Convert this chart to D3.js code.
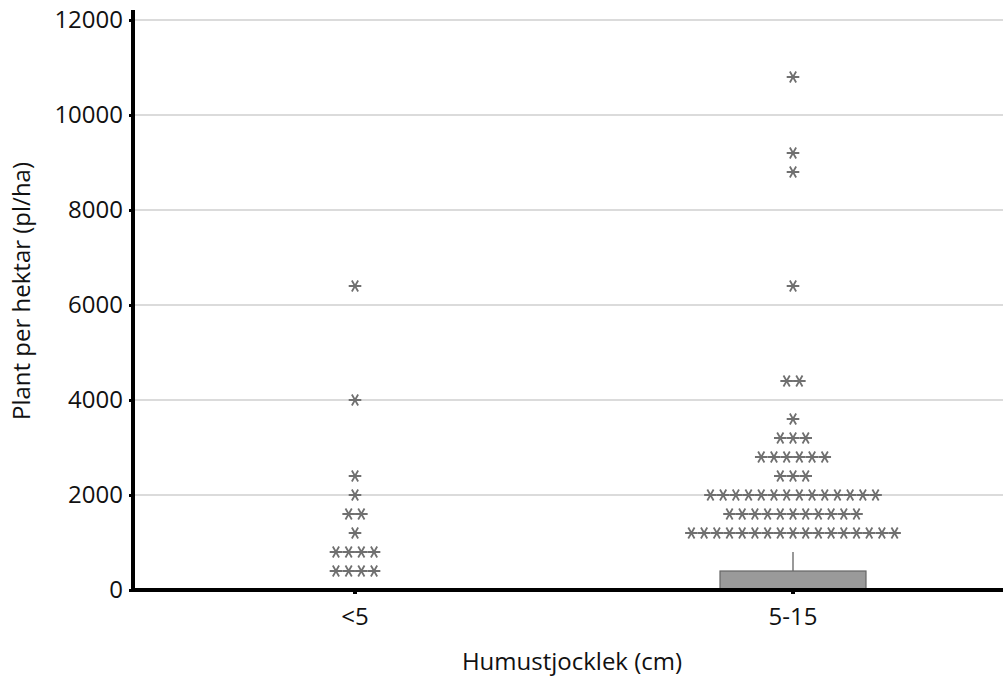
<!DOCTYPE html>
<html>
<head>
<meta charset="utf-8">
<script src="https://cdn.jsdelivr.net/npm/d3@7"></script>
<style>
  body { margin: 0; background: #fff; }
  text { font-family: "Open Sans", sans-serif; fill: #111; }
</style>
</head>
<body>
<script>
// categories and values
var categories = ["<5", "5-15"];
var yTicks = [0, 2000, 4000, 6000, 8000, 10000, 12000];

// box plot stats per category
var q1 = [0, 0];
var median = [0, 0];
var q3 = [0, 400];
var whiskerHigh = [0, 800];

// outliers: value rows and how many stars sit in each row
var outlierValuesA = [400, 800, 1200, 1600, 2000, 2400, 4000, 6400];
var outlierCountsA = [4, 4, 1, 2, 1, 1, 1, 1];
var outlierValuesB = [1200, 1600, 2000, 2400, 2800, 3200, 3600, 4400, 6400, 8800, 9200, 10800];
var outlierCountsB = [17, 11, 14, 3, 6, 3, 1, 2, 1, 1, 1, 1];

var width = 1003, height = 676;
var margin = { top: 20, right: 0, bottom: 86, left: 133 };

var svg = d3.select("body").append("svg")
    .attr("width", width)
    .attr("height", height);

var y = d3.scaleLinear()
    .domain([0, 12000])
    .range([height - margin.bottom, margin.top]);

var x = d3.scaleBand()
    .domain(categories)
    .range([136, 1012]);

// gridlines
svg.append("g")
  .selectAll("line")
  .data(yTicks.filter(function(d) { return d > 0; }))
  .enter().append("line")
    .attr("x1", margin.left)
    .attr("x2", width)
    .attr("y1", function(d) { return y(d); })
    .attr("y2", function(d) { return y(d); })
    .attr("stroke", "#cfcfcf")
    .attr("stroke-width", 1.5);

// boxes
var boxes = categories.map(function(c, i) {
  return { cat: c, q1: q1[i], med: median[i], q3: q3[i], hi: whiskerHigh[i] };
});
var bw = x.bandwidth() / 3;

var bg = svg.append("g").selectAll("g")
    .data(boxes)
    .enter().append("g");

bg.append("line")
    .attr("x1", function(d) { return x(d.cat) + x.bandwidth() / 2; })
    .attr("x2", function(d) { return x(d.cat) + x.bandwidth() / 2; })
    .attr("y1", function(d) { return y(d.q3); })
    .attr("y2", function(d) { return y(d.hi); })
    .attr("stroke", "#555")
    .attr("stroke-width", 1.2);

bg.append("rect")
    .attr("x", function(d) { return x(d.cat) + x.bandwidth() / 2 - bw / 2; })
    .attr("width", bw)
    .attr("y", function(d) { return y(d.q3); })
    .attr("height", function(d) { return Math.max(1, y(d.q1) - y(d.q3)); })
    .attr("fill", "#9a9a9a")
    .attr("stroke", "#666")
    .attr("stroke-width", 1.2);

// asterisk marker
function star(s) {
  var a = s * Math.cos(Math.PI / 3), b = s * Math.sin(Math.PI / 3);
  return "M" + (-s) + ",0L" + s + ",0" +
         "M" + (-a) + "," + (-b) + "L" + a + "," + b +
         "M" + (-a) + "," + b + "L" + a + "," + (-b);
}

function expand(cat, vals, counts) {
  var pts = [];
  vals.forEach(function(v, i) {
    for (var k = 0; k < counts[i]; k++) {
      pts.push({ cat: cat, value: v, off: k - (counts[i] - 1) / 2 });
    }
  });
  return pts;
}

var outliers = expand(categories[0], outlierValuesA, outlierCountsA)
  .concat(expand(categories[1], outlierValuesB, outlierCountsB));

var step = 12.7;
svg.append("g").selectAll("path")
    .data(outliers)
    .enter().append("path")
    .attr("transform", function(d) {
      return "translate(" + (x(d.cat) + x.bandwidth() / 2 + d.off * step) + "," + y(d.value) + ")";
    })
    .attr("d", star(6.3))
    .attr("fill", "none")
    .attr("stroke", "#707070")
    .attr("stroke-width", 1.8);

// y axis
var yAxis = svg.append("g")
    .attr("transform", "translate(" + margin.left + ",0)")
    .call(d3.axisLeft(y).tickValues(yTicks).tickFormat(d3.format("d")).tickSize(4).tickPadding(6));
yAxis.select(".domain").remove();
yAxis.selectAll(".tick line").attr("stroke", "#000").attr("stroke-width", 3);
yAxis.selectAll(".tick text")
    .style("font-size", "24px")
    .attr("fill", "#111");
yAxis.append("line")
    .attr("x1", 0).attr("x2", 0)
    .attr("y1", 10).attr("y2", y(0) + 2)
    .attr("stroke", "#000")
    .attr("stroke-width", 4);

// x axis
var xAxis = svg.append("g")
    .attr("transform", "translate(0," + y(0) + ")")
    .call(d3.axisBottom(x).tickSize(4).tickPadding(14));
xAxis.select(".domain").remove();
xAxis.selectAll(".tick line").attr("stroke", "#000").attr("stroke-width", 4);
xAxis.selectAll(".tick text")
    .style("font-size", "24px")
    .attr("fill", "#111");
xAxis.append("line")
    .attr("x1", margin.left - 2).attr("x2", width)
    .attr("y1", 0).attr("y2", 0)
    .attr("stroke", "#000")
    .attr("stroke-width", 4);

// axis titles
svg.append("text")
    .attr("x", 572)
    .attr("y", 670)
    .attr("text-anchor", "middle")
    .style("font-size", "24px")
    .text("Humustjocklek (cm)");

svg.append("text")
    .attr("transform", "translate(30,291) rotate(-90)")
    .attr("text-anchor", "middle")
    .style("font-size", "24px")
    .text("Plant per hektar (pl/ha)");
</script>
</body>
</html>
